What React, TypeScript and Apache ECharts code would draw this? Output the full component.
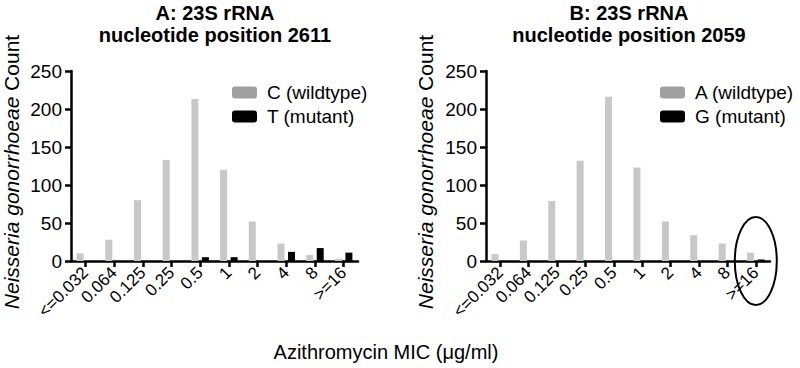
import React, { useEffect, useRef } from "react";
import * as echarts from "echarts";

const categories = ["<=0.032", "0.064", "0.125", "0.25", "0.5", "1", "2", "4", "8", ">=16"];
const yTicks = { min: 0, max: 250, interval: 50 };

const titleA = ["A: 23S rRNA", "nucleotide position 2611"];
const titleB = ["B: 23S rRNA", "nucleotide position 2059"];

const seriesANames = ["C (wildtype)", "T (mutant)"];
const seriesBNames = ["A (wildtype)", "G (mutant)"];

const wildtypeA = [10, 28, 80, 133, 213, 120, 52, 23, 8, 3];
const mutantA = [0, 0, 0, 0, 5, 5, 0, 12, 17, 11];
const wildtypeB = [9, 27, 79, 132, 216, 123, 52, 34, 23, 11];
const mutantB = [0, 0, 0, 0, 0, 0, 0, 0, 0, 2];

const yAxisTitle = "{i|Neisseria gonorrhoeae} Count";
const xAxisTitle = "Azithromycin MIC (\u03bcg/ml)";

const FONT = "Arial, 'Liberation Sans', Helvetica, sans-serif";

export default function App() {
  const ref = useRef<HTMLDivElement>(null);
  useEffect(() => {
    if (!ref.current) return;
    const chart = echarts.init(ref.current, null, { renderer: "svg" });
    const axisLine = { show: true, lineStyle: { color: "#000", width: 2.5 } };
    const axisTick = { show: true, length: 6, lineStyle: { color: "#000", width: 2.5 } };
    const xAxis = (gridIndex: number) => ({
      type: "category",
      gridIndex,
      data: categories,
      boundaryGap: true,
      axisLine,
      axisTick: { ...axisTick, alignWithLabel: true },
      axisLabel: {
        rotate: 45,
        interval: 0,
        margin: 9,
        color: "#000",
        fontSize: 17,
        fontFamily: FONT,
      },
    });
    const yAxis = (gridIndex: number) => ({
      type: "value",
      gridIndex,
      min: yTicks.min,
      max: yTicks.max,
      interval: yTicks.interval,
      axisLine,
      axisTick,
      splitLine: { show: false },
      axisLabel: { color: "#000", fontSize: 19, fontFamily: FONT, margin: 9 },
    });
    const bar = (name: string, data: number[], idx: number, color: string) => ({
      type: "bar",
      name,
      data,
      xAxisIndex: idx,
      yAxisIndex: idx,
      barWidth: 7,
      barGap: "50%",
      itemStyle: { color },
    });
    const legend = (names: string[], left: number) => ({
      orient: "vertical",
      left,
      top: 78,
      itemWidth: 25,
      itemHeight: 12,
      itemGap: 5,
      textStyle: { color: "#000", fontSize: 19, fontFamily: FONT, padding: [0, 0, 0, 5] },
      data: [
        { name: names[0], itemStyle: { color: "#a0a0a0" } },
        { name: names[1], itemStyle: { color: "#000" } },
      ],
      selectedMode: false,
    });
    const titleText = (lines: string[], cx: number) => ({
      type: "text",
      x: cx,
      y: 2,
      style: {
        text: lines.join("\n"),
        fill: "#000",
        fontSize: 20,
        fontWeight: "bold",
        fontFamily: FONT,
        align: "center",
        lineHeight: 22,
      },
    });
    const yName = (cx: number) => ({
      type: "text",
      x: cx,
      y: 172,
      rotation: Math.PI / 2,
      style: {
        text: yAxisTitle,
        fill: "#000",
        fontSize: 21,
        fontFamily: FONT,
        align: "center",
        verticalAlign: "middle",
        rich: {
          i: { fontStyle: "italic", fontSize: 21, fontFamily: FONT, fill: "#000" },
        },
      },
    });
    chart.setOption({
      animation: false,
      backgroundColor: "#fff",
      grid: [
        { left: 71, top: 71, width: 287, height: 190, containLabel: false },
        { left: 486, top: 71, width: 284, height: 190, containLabel: false },
      ],
      xAxis: [xAxis(0), xAxis(1)],
      yAxis: [yAxis(0), yAxis(1)],
      legend: [legend(seriesANames, 227), legend(seriesBNames, 655)],
      series: [
        bar(seriesANames[0], wildtypeA, 0, "#c8c8c8"),
        bar(seriesANames[1], mutantA, 0, "#000"),
        bar(seriesBNames[0], wildtypeB, 1, "#c8c8c8"),
        bar(seriesBNames[1], mutantB, 1, "#000"),
      ],
      graphic: [
        titleText(titleA, 215),
        titleText(titleB, 629),
        yName(11),
        yName(425),
        {
          type: "text",
          x: 386,
          y: 352,
          style: {
            text: xAxisTitle,
            fill: "#000",
            fontSize: 20,
            fontFamily: FONT,
            align: "center",
            verticalAlign: "middle",
          },
        },
      ],
    });
    const p = chart.convertToPixel({ gridIndex: 1 }, [categories.length - 1, 0]) as number[];
    chart.setOption({
      graphic: [
        {},
        {},
        {},
        {},
        {},
        {
          type: "ellipse",
          shape: { cx: p[0], cy: p[1], rx: 21, ry: 44 },
          style: { fill: "none", stroke: "#000", lineWidth: 2 },
          z: 10,
        },
      ],
    });
    return () => chart.dispose();
  }, []);
  return <div ref={ref} style={{ width: 800, height: 368, position: "absolute", left: 0, top: 0 }} />;
}
